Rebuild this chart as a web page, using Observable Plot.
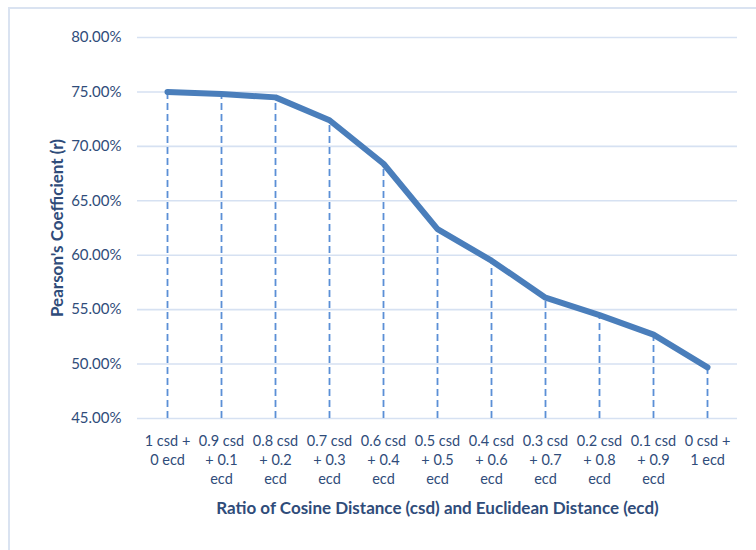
<!DOCTYPE html>
<html><head><meta charset="utf-8">
<script src="https://cdn.jsdelivr.net/npm/d3@7"></script>
<script src="https://cdn.jsdelivr.net/npm/@observablehq/plot@0.6"></script>
<style>
body{margin:0;background:#fff;}
#wrap{position:relative;width:756px;height:550px;overflow:hidden;}
#border{position:absolute;left:8px;top:7px;width:800px;height:600px;border:2px solid #dae3f1;box-sizing:border-box;}
#chart{position:absolute;left:0;top:0;}
</style></head><body>
<div id="wrap"><div id="border"></div><div id="chart"></div></div>
<script>
const categories = ["1 csd + 0 ecd","0.9 csd + 0.1 ecd","0.8 csd + 0.2 ecd","0.7 csd + 0.3 ecd","0.6 csd + 0.4 ecd","0.5 csd + 0.5 ecd","0.4 csd + 0.6 ecd","0.3 csd + 0.7 ecd","0.2 csd + 0.8 ecd","0.1 csd + 0.9 ecd","0 csd + 1 ecd"];
const tickLabels = ["1 csd +\n0 ecd","0.9 csd\n+ 0.1\necd","0.8 csd\n+ 0.2\necd","0.7 csd\n+ 0.3\necd","0.6 csd\n+ 0.4\necd","0.5 csd\n+ 0.5\necd","0.4 csd\n+ 0.6\necd","0.3 csd\n+ 0.7\necd","0.2 csd\n+ 0.8\necd","0.1 csd\n+ 0.9\necd","0 csd +\n1 ecd"];
const pearson = [0.750, 0.748, 0.745, 0.724, 0.684, 0.624, 0.595, 0.561, 0.545, 0.527, 0.497];
const yTicks = [0.45, 0.50, 0.55, 0.60, 0.65, 0.70, 0.75, 0.80];
const xTitle = "Ratio of Cosine Distance (csd) and Euclidean Distance (ecd)";
const yTitle = "Pearson's Coefficient (r)";

const data = categories.map((c, i) => ({cat: c, r: pearson[i]}));
const labelOf = Object.fromEntries(categories.map((c, i) => [c, tickLabels[i]]));
const textColor = "#2f4c7a";

const chart = Plot.plot({
  width: 756,
  height: 550,
  marginLeft: 137,
  marginRight: 19,
  marginTop: 37,
  marginBottom: 132,
  style: {fontFamily: "Lato, 'Open Sans', sans-serif", background: "transparent", overflow: "visible"},
  x: {type: "point", domain: categories, padding: 0.5},
  y: {domain: [0.45, 0.80]},
  marks: [
    Plot.ruleY(yTicks, {stroke: "#d6e1f2", strokeWidth: 1.6}),
    Plot.ruleX(data, {x: "cat", y1: 0.45, y2: "r", stroke: "#5b8fd6", strokeWidth: 1.8, strokeDasharray: "7,4"}),
    Plot.line(data, {x: "cat", y: "r", stroke: "#4a7ebb", strokeWidth: 6, strokeLinecap: "round", strokeLinejoin: "round"}),
    Plot.axisY({ticks: yTicks, tickFormat: d3.format(".2%"), tickSize: 0, tickPadding: 16, fontSize: 15, fill: textColor, label: null}),
    Plot.axisX({tickFormat: d => labelOf[d], tickSize: 0, tickPadding: 14, fontSize: 14.5, lineHeight: 1.32, fill: textColor, label: null}),
    Plot.text([xTitle], {frameAnchor: "bottom", dy: 90, lineAnchor: "middle", fontSize: 17, fontWeight: "bold", fill: textColor}),
    Plot.text([yTitle], {frameAnchor: "left", dx: -80, rotate: -90, textAnchor: "middle", lineAnchor: "middle", fontSize: 17, fontWeight: "bold", fill: textColor})
  ]
});
document.getElementById("chart").appendChild(chart);
</script>
</body></html>
